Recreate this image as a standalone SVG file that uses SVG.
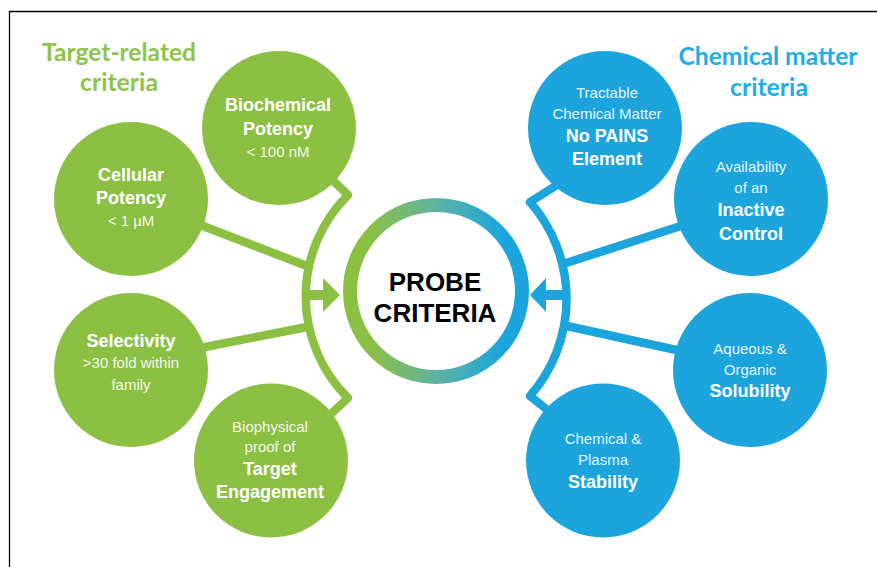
<svg xmlns="http://www.w3.org/2000/svg" width="877" height="567" viewBox="0 0 877 567">
<defs>
<linearGradient id="ringGrad" x1="0" y1="0" x2="1" y2="0">
<stop offset="0.12" stop-color="#8CC043"/>
<stop offset="0.5" stop-color="#5EB3A3"/>
<stop offset="0.88" stop-color="#1CA5DC"/>
</linearGradient>
<style>
.g{fill:#8CC043}
.b{fill:#1CA5DC}
.cg{stroke:#8CC043;fill:none;stroke-width:8.5;stroke-linejoin:round}
.cb{stroke:#1CA5DC;fill:none;stroke-width:8.5;stroke-linejoin:round}
.t{font-family:"Liberation Sans",Arial,sans-serif;fill:#ffffff;text-anchor:middle}
.r{font-size:15px;fill-opacity:0.9}
.bd{font-size:18px;font-weight:bold}
.title{font-family:Lato,"Open Sans",sans-serif;font-weight:bold;font-size:24px;text-anchor:middle}
.center{font-family:"Liberation Sans",Arial,sans-serif;font-weight:bold;font-size:26px;fill:#000;text-anchor:middle}
</style>
</defs>
<rect width="877" height="567" fill="#ffffff"/>
<path d="M9.5,567 V11.5 H877" fill="none" stroke="#000" stroke-width="1.3"/>

<g id="titles">
<text class="title" x="119" y="61" fill="#8DC44A" textLength="154" lengthAdjust="spacingAndGlyphs">Target-related</text>
<text class="title" x="119" y="91" fill="#8DC44A" textLength="78" lengthAdjust="spacingAndGlyphs">criteria</text>
<text class="title" x="768" y="65" fill="#1DAEE6" textLength="179" lengthAdjust="spacingAndGlyphs">Chemical matter</text>
<text class="title" x="769" y="96" fill="#1DAEE6" textLength="78" lengthAdjust="spacingAndGlyphs">criteria</text>
</g>

<g id="connectors">
<path class="cg" d="M322,170 L348,195 A143 143 0 0 0 348,398 L320,424"/>
<path class="cg" d="M190,221 L307,266"/>
<path class="cg" d="M190,350 L307,327"/>
<rect class="g" x="306" y="290" width="19" height="10"/>
<polygon class="g" points="323,278 340,295 323,312"/>
<path class="cb" d="M565,180 L530,202 A147 147 0 0 1 530,396 L555,416"/>
<path class="cb" d="M563,264 L690,223"/>
<path class="cb" d="M567,326 L690,353"/>
<rect class="b" x="544" y="290" width="21" height="10"/>
<polygon class="b" points="546,278 530,295 546,312"/>
</g>

<g id="probe-criteria">
<circle cx="436" cy="291" r="86" fill="#ffffff" stroke="url(#ringGrad)" stroke-width="14"/>
<text class="center" x="435" y="291">PROBE</text>
<text class="center" x="435" y="322">CRITERIA</text>
</g>

<g id="biochemical-potency">
<circle class="g" cx="279" cy="128" r="77"/>
<text class="t bd" x="278" y="111">Biochemical</text>
<text class="t bd" x="278" y="135">Potency</text>
<text class="t r" x="278" y="157">&lt; 100 nM</text>
</g>

<g id="cellular-potency">
<circle class="g" cx="131" cy="199" r="77"/>
<text class="t bd" x="131" y="181">Cellular</text>
<text class="t bd" x="131" y="204">Potency</text>
<text class="t r" x="131" y="226">&lt; 1 µM</text>
</g>

<g id="selectivity">
<circle class="g" cx="131" cy="370" r="77"/>
<text class="t bd" x="131" y="347">Selectivity</text>
<text class="t r" x="131" y="368">&gt;30 fold within</text>
<text class="t r" x="131" y="390">family</text>
</g>

<g id="target-engagement">
<circle class="g" cx="271" cy="460.5" r="77"/>
<text class="t r" x="270" y="432">Biophysical</text>
<text class="t r" x="270" y="452">proof of</text>
<text class="t bd" x="270" y="475">Target</text>
<text class="t bd" x="270" y="498">Engagement</text>
</g>

<g id="no-pains">
<circle class="b" cx="605" cy="128" r="77"/>
<text class="t r" x="607" y="98">Tractable</text>
<text class="t r" x="607" y="119">Chemical Matter</text>
<text class="t bd" x="607" y="142">No PAINS</text>
<text class="t bd" x="607" y="165">Element</text>
</g>

<g id="inactive-control">
<circle class="b" cx="751" cy="199" r="77"/>
<text class="t r" x="751" y="172">Availability</text>
<text class="t r" x="751" y="193">of an</text>
<text class="t bd" x="751" y="216">Inactive</text>
<text class="t bd" x="751" y="240">Control</text>
</g>

<g id="solubility">
<circle class="b" cx="750" cy="370" r="77"/>
<text class="t r" x="750" y="354">Aqueous &amp;</text>
<text class="t r" x="750" y="375">Organic</text>
<text class="t bd" x="750" y="397">Solubility</text>
</g>

<g id="stability">
<circle class="b" cx="603" cy="460.5" r="77"/>
<text class="t r" x="603" y="444">Chemical &amp;</text>
<text class="t r" x="603" y="465">Plasma</text>
<text class="t bd" x="603" y="488">Stability</text>
</g>
</svg>
